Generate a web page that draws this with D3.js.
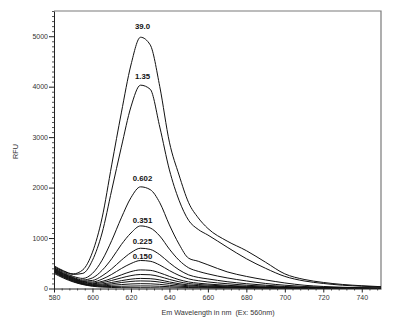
<!DOCTYPE html>
<html><head><meta charset="utf-8">
<script src="https://cdn.jsdelivr.net/npm/d3@7"></script>
<style>
body{margin:0;background:#fff}
svg{display:block}
text{font-family:"Liberation Sans",Arial,sans-serif}
</style>
</head><body>
<svg id="chart" width="399" height="329"></svg>
<script>
// ---- data ----
const wavelengths = [580,585,590,595,600,605,610,615,620,625,630,635,640,645,650,655,660,670,680,690,700,710,720,730,740,750];

const conc_39_0  = [450,350,290,370,720,1400,2450,3480,4430,4980,4830,4000,2900,2250,1700,1400,1190,940,750,520,290,180,120,80,55,36];
const conc_1_35  = [430,340,280,300,560,1100,1950,2800,3600,4030,3950,3200,2350,1750,1350,1170,1060,820,590,400,240,150,100,65,45,30];
const conc_0_602 = [410,320,240,200,300,560,950,1400,1800,2015,1960,1700,1260,880,600,540,470,330,240,170,110,65,40,25,15,10];
const conc_0_351 = [400,300,220,170,210,360,590,870,1100,1240,1200,1040,780,560,410,340,290,210,150,100,65,40,25,15,10,5];
const conc_0_225 = [390,290,210,150,160,250,390,560,710,798,775,670,510,370,270,220,190,135,95,65,40,25,15,10,5,3];
const conc_0_150 = [380,280,200,140,130,185,280,395,495,555,540,465,355,260,190,155,130,95,65,45,28,17,10,6,4,2];
const conc_7  = [370,270,190,130,110,140,200,270,335,368,360,310,240,175,130,105,88,63,44,30,19,11,7,4,2,1];
const conc_8  = [360,260,180,120,95,115,160,210,255,278,272,235,180,132,98,80,67,48,33,22,14,8,5,3,2,1];
const conc_9  = [350,250,170,110,80,90,120,155,185,200,195,170,130,95,70,57,48,34,24,16,10,6,4,2,1,1];
const conc_10 = [340,240,160,100,70,72,92,118,140,150,146,127,98,72,53,43,36,26,18,12,8,5,3,2,1,1];
const conc_11 = [330,230,150,92,60,55,65,78,90,96,93,82,63,47,35,28,23,17,12,8,5,3,2,1,1,0];
const conc_12 = [320,220,140,85,52,40,40,44,48,51,50,44,35,26,19,15,12,9,6,4,3,2,1,1,0,0];
const conc_13 = [300,205,130,78,45,28,20,17,16,16,15,13,11,8,6,5,4,3,2,1,1,0,0,0,0,0];

const peakLabels = ["39.0","1.35","0.602","0.351","0.225","0.150"];
const peakLabelLevels = [5190,4200,2190,1360,930,640];   // RFU level of each label's centre
const peakLabelWavelength = 626;

const xTickValues = [580,600,620,640,660,680,700,720,740];
const yTickValues = [0,1000,2000,3000,4000,5000];

const xTitle = "Em Wavelength in nm  (Ex: 560nm)";
const yTitle = "RFU";

// ---- drawing ----
const allSeries = [conc_39_0,conc_1_35,conc_0_602,conc_0_351,conc_0_225,conc_0_150,
                   conc_7,conc_8,conc_9,conc_10,conc_11,conc_12,conc_13];

const svg = d3.select("#chart");
const x = d3.scaleLinear().domain([580,750]).range([54,381]);
const y = d3.scaleLinear().domain([0,5500]).range([288.5,11]);

svg.append("defs").append("clipPath").attr("id","plotclip")
  .append("rect").attr("x",54).attr("y",11).attr("width",327).attr("height",277.5);

// frame (top + right)
svg.append("path")
  .attr("d",`M${x(580)},${y(5500)}H${x(750)}V${y(0)}`)
  .attr("fill","none").attr("stroke","#7a7a7a").attr("stroke-width",1.2);

// curves
const line = d3.line()
  .x((d,i)=>x(wavelengths[i]))
  .y(d=>y(d))
  .curve(d3.curveMonotoneX);

svg.append("g").attr("clip-path","url(#plotclip)")
  .selectAll("path").data(allSeries).join("path")
  .attr("d",line)
  .attr("fill","none")
  .attr("stroke","#111")
  .attr("stroke-width",1);

// minor ticks
const yMinor = d3.range(0,5501,100).filter(v=>v%1000!==0);
const xMinor = d3.range(580,751,4).filter(v=>(v-580)%20!==0);

svg.append("g").attr("transform","translate(54,0)")
  .call(d3.axisLeft(y).tickValues(yMinor).tickSize(2).tickFormat(""))
  .call(g=>g.select(".domain").remove())
  .selectAll("line").attr("stroke","#555");

svg.append("g").attr("transform","translate(0,288.5)")
  .call(d3.axisBottom(x).tickValues(xMinor).tickSize(2).tickFormat(""))
  .call(g=>g.select(".domain").remove())
  .selectAll("line").attr("stroke","#555");

// major axes
const yAxis = svg.append("g").attr("transform","translate(54,0)")
  .call(d3.axisLeft(y).tickValues(yTickValues).tickFormat(d3.format("d"))
        .tickSize(5).tickPadding(1).tickSizeOuter(0));
const xAxis = svg.append("g").attr("transform","translate(0,288.5)")
  .call(d3.axisBottom(x).tickValues(xTickValues).tickFormat(d3.format("d"))
        .tickSize(4).tickPadding(3).tickSizeOuter(0));

[yAxis,xAxis].forEach(a=>{
  a.select(".domain").attr("stroke","#222");
  a.selectAll(".tick line").attr("stroke","#222");
  a.selectAll(".tick text").attr("font-size",7).attr("fill","#333")
   .attr("font-family","'Liberation Sans',Arial,sans-serif");
});

// axis titles
svg.append("text")
  .attr("x",218).attr("y",315)
  .attr("text-anchor","middle")
  .attr("font-size",7.2).attr("fill","#333")
  .style("white-space","pre")
  .text(xTitle);

svg.append("text")
  .attr("transform",`translate(17.5,151.5) rotate(-90)`)
  .attr("text-anchor","middle")
  .attr("font-size",7.2).attr("fill","#333")
  .text(yTitle);

// peak labels
svg.append("g").selectAll("text").data(peakLabels).join("text")
  .attr("x",x(peakLabelWavelength))
  .attr("y",(d,i)=>y(peakLabelLevels[i]))
  .attr("dy","0.36em")
  .attr("text-anchor","middle")
  .attr("font-size",7.8).attr("font-weight","bold").attr("fill","#111")
  .text(d=>d);
</script>
</body></html>
